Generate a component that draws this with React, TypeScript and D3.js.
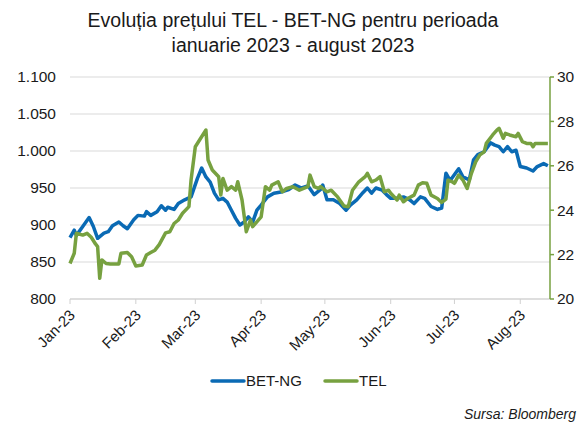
import React, { useEffect, useRef } from 'react'
import * as d3 from 'd3'

// BET-NG index (left axis)
const betDates = ['2023-01-03','2023-01-05','2023-01-06','2023-01-09','2023-01-10','2023-01-12','2023-01-14','2023-01-16','2023-01-19','2023-01-21','2023-01-23','2023-01-26','2023-01-28','2023-01-30','2023-02-02','2023-02-04','2023-02-07','2023-02-08','2023-02-10','2023-02-13','2023-02-15','2023-02-17','2023-02-18','2023-02-21','2023-02-23','2023-02-26','2023-03-01','2023-03-04','2023-03-06','2023-03-08','2023-03-10','2023-03-12','2023-03-14','2023-03-16','2023-03-18','2023-03-20','2023-03-22','2023-03-24','2023-03-26','2023-03-28','2023-03-30','2023-04-01','2023-04-03','2023-04-06','2023-04-09','2023-04-13','2023-04-16','2023-04-19','2023-04-22','2023-04-25','2023-04-28','2023-05-01','2023-05-02','2023-05-04','2023-05-07','2023-05-10','2023-05-13','2023-05-15','2023-05-18','2023-05-21','2023-05-23','2023-05-25','2023-05-27','2023-05-30','2023-06-01','2023-06-03','2023-06-06','2023-06-09','2023-06-12','2023-06-14','2023-06-17','2023-06-19','2023-06-22','2023-06-25','2023-06-27','2023-06-29','2023-07-01','2023-07-05','2023-07-07','2023-07-10','2023-07-12','2023-07-14','2023-07-17','2023-07-20','2023-07-22','2023-07-24','2023-07-26','2023-07-28','2023-07-30','2023-08-01','2023-08-03','2023-08-06','2023-08-09','2023-08-11','2023-08-14','2023-08-16']
const betValues = [883,893,886,898,902,910,898,882,889,891,899,904,899,895,907,913,912,918,913,918,926,920,924,921,929,934,938,963,977,965,958,943,934,936,931,920,909,900,904,911,904,920,927,938,943,945,948,954,950,953,941,948,954,934,934,929,920,927,934,944,950,943,950,947,941,936,936,938,934,929,938,936,925,921,923,970,960,976,965,961,988,995,999,1011,1008,1006,999,1006,999,1001,979,977,973,979,983,980]

// TEL share price (right axis)
const telDates = ['2023-01-03','2023-01-05','2023-01-06','2023-01-09','2023-01-11','2023-01-13','2023-01-15','2023-01-16','2023-01-17','2023-01-18','2023-01-20','2023-01-22','2023-01-26','2023-01-27','2023-01-30','2023-02-01','2023-02-03','2023-02-06','2023-02-08','2023-02-10','2023-02-12','2023-02-14','2023-02-17','2023-02-19','2023-02-21','2023-02-23','2023-02-25','2023-02-28','2023-03-01','2023-03-03','2023-03-05','2023-03-08','2023-03-09','2023-03-11','2023-03-14','2023-03-15','2023-03-16','2023-03-18','2023-03-20','2023-03-22','2023-03-23','2023-03-25','2023-03-27','2023-03-29','2023-03-30','2023-04-03','2023-04-05','2023-04-07','2023-04-08','2023-04-11','2023-04-13','2023-04-15','2023-04-18','2023-04-21','2023-04-25','2023-04-26','2023-04-28','2023-04-30','2023-05-01','2023-05-04','2023-05-06','2023-05-09','2023-05-12','2023-05-14','2023-05-16','2023-05-19','2023-05-22','2023-05-23','2023-05-25','2023-05-27','2023-05-29','2023-05-31','2023-06-02','2023-06-03','2023-06-06','2023-06-07','2023-06-09','2023-06-11','2023-06-14','2023-06-16','2023-06-18','2023-06-20','2023-06-22','2023-06-25','2023-06-27','2023-06-29','2023-06-30','2023-07-02','2023-07-03','2023-07-05','2023-07-07','2023-07-09','2023-07-11','2023-07-13','2023-07-15','2023-07-17','2023-07-18','2023-07-21','2023-07-23','2023-07-24','2023-07-26','2023-07-27','2023-07-29','2023-08-01','2023-08-02','2023-08-04','2023-08-06','2023-08-08','2023-08-09','2023-08-10','2023-08-16']
const telValues = [21.6,22.06,22.96,22.88,22.96,22.78,22.48,22.36,20.93,21.76,21.6,21.58,21.58,22.06,22.09,21.9,21.49,21.53,21.98,22.09,22.2,22.45,22.98,23.03,23.4,23.56,23.86,24.16,25.36,26.86,27.16,27.61,26.26,25.81,25.51,24.68,25.43,24.9,25.06,24.9,25.28,24.46,23.03,23.56,23.26,23.7,25.06,24.9,25.13,25.28,24.83,24.98,25.06,24.9,25.06,25.58,25.06,24.98,25.06,24.83,24.9,24.6,24.19,24.16,24.9,25.28,25.51,25.66,25.28,25.36,25.51,24.83,24.9,24.76,24.46,24.68,24.38,24.53,24.68,25.13,25.24,25.21,24.68,24.53,24.35,24.5,25.36,25.28,25.21,25.58,25.36,24.98,25.66,26.18,26.49,26.63,27.01,27.39,27.61,27.69,27.24,27.46,27.39,27.31,27.46,27.09,27.01,27.01,26.86,27.01,27.01]

const leftTicks = [800, 850, 900, 950, 1000, 1050, 1100]
const rightTicks = [20, 22, 24, 26, 28, 30]
const monthTicks = ['2023-01-03','2023-02-03','2023-03-03','2023-04-03','2023-05-03','2023-06-03','2023-07-03','2023-08-03']
const seriesNames = ['BET-NG', 'TEL']

const BLUE = '#0A6AB4'
const GREEN = '#77A140'
const FONT = '"Liberation Sans", Arial, sans-serif'

export default function App() {
  const ref = useRef<SVGSVGElement>(null)

  useEffect(() => {
    const svg = d3.select(ref.current)
    svg.selectAll('*').remove()
    const parse = d3.timeParse('%Y-%m-%d')
    const left = 70, right = 550, top = 77, bottom = 299

    const x = d3.scaleTime()
      .domain([parse('2023-01-03')!, parse('2023-08-17')!])
      .range([left, right])
    const yL = d3.scaleLinear().domain([800, 1100]).range([bottom, top])
    const yR = d3.scaleLinear().domain([20, 30]).range([bottom, top])

    // title
    const title = svg.append('text')
      .attr('text-anchor', 'middle')
      .style('font-family', FONT)
      .style('font-size', '19.5px')
      .attr('fill', '#1a1a1a')
    title.append('tspan').attr('x', 293).attr('y', 27).text('Evoluția prețului TEL - BET-NG pentru perioada')
    title.append('tspan').attr('x', 293).attr('y', 52).text('ianuarie 2023 - august 2023')

    // gridlines
    svg.append('g').selectAll('line')
      .data(leftTicks)
      .enter()
      .append('line')
      .attr('x1', left).attr('x2', right)
      .attr('y1', d => yL(d)).attr('y2', d => yL(d))
      .attr('stroke', '#D9D9D9').attr('stroke-width', 1)

    // left labels
    svg.append('g').selectAll('text')
      .data(leftTicks)
      .enter()
      .append('text')
      .attr('x', 56)
      .attr('y', d => yL(d))
      .attr('dy', '0.35em')
      .attr('text-anchor', 'end')
      .style('font-family', FONT)
      .style('font-size', '15.5px')
      .attr('fill', '#1a1a1a')
      .text(d => d3.format(',')(d).replace(',', '.'))

    // x axis
    const xa = svg.append('g')
    xa.append('line')
      .attr('x1', left).attr('x2', right)
      .attr('y1', bottom).attr('y2', bottom)
      .attr('stroke', '#D0D0D0').attr('stroke-width', 1)
    const mt = monthTicks.map(d => parse(d)!)
    xa.selectAll('line.tick')
      .data(mt)
      .enter()
      .append('line')
      .attr('class', 'tick')
      .attr('x1', d => x(d)).attr('x2', d => x(d))
      .attr('y1', bottom).attr('y2', bottom + 5)
      .attr('stroke', '#D0D0D0')
    xa.selectAll('text')
      .data(mt)
      .enter()
      .append('text')
      .attr('text-anchor', 'end')
      .attr('transform', d => 'translate(' + (x(d) + 6) + ',' + (bottom + 17) + ')rotate(-45)')
      .style('font-family', FONT)
      .style('font-size', '15px')
      .attr('fill', '#1a1a1a')
      .text(d => d3.timeFormat('%b-%y')(d))

    // right axis
    const ra = svg.append('g')
    ra.append('line')
      .attr('x1', right).attr('x2', right)
      .attr('y1', top).attr('y2', bottom)
      .attr('stroke', GREEN).attr('stroke-width', 1.5)
    ra.selectAll('line.tick')
      .data(rightTicks)
      .enter()
      .append('line')
      .attr('class', 'tick')
      .attr('x1', right).attr('x2', right + 4)
      .attr('y1', d => yR(d)).attr('y2', d => yR(d))
      .attr('stroke', GREEN).attr('stroke-width', 1.5)
    ra.selectAll('text')
      .data(rightTicks)
      .enter()
      .append('text')
      .attr('x', 557)
      .attr('y', d => yR(d))
      .attr('dy', '0.35em')
      .style('font-family', FONT)
      .style('font-size', '15.5px')
      .attr('fill', '#1a1a1a')
      .text(d => d)

    // lines
    const bet = betDates.map((d, i) => [parse(d)!, betValues[i]] as [Date, number])
    const tel = telDates.map((d, i) => [parse(d)!, telValues[i]] as [Date, number])
    const lineL = d3.line<[Date, number]>().x(d => x(d[0])).y(d => yL(d[1]))
    const lineR = d3.line<[Date, number]>().x(d => x(d[0])).y(d => yR(d[1]))

    svg.append('path')
      .datum(bet)
      .attr('d', lineL)
      .attr('fill', 'none')
      .attr('stroke', BLUE)
      .attr('stroke-width', 3.5)
      .attr('stroke-linejoin', 'round')
    svg.append('path')
      .datum(tel)
      .attr('d', lineR)
      .attr('fill', 'none')
      .attr('stroke', GREEN)
      .attr('stroke-width', 3.5)
      .attr('stroke-linejoin', 'round')

    // legend
    const lg = svg.append('g')
    const legendX = [212, 325]
    const colors = [BLUE, GREEN]
    seriesNames.forEach((name, i) => {
      lg.append('line')
        .attr('x1', legendX[i]).attr('x2', legendX[i] + 32)
        .attr('y1', 381).attr('y2', 381)
        .attr('stroke', colors[i]).attr('stroke-width', 3.5)
        .attr('stroke-linecap', 'round')
      lg.append('text')
        .attr('x', legendX[i] + 34)
        .attr('y', 381)
        .attr('dy', '0.35em')
        .style('font-family', FONT)
        .style('font-size', '15px')
        .attr('fill', '#1a1a1a')
        .text(name)
    })

    svg.append('text')
      .attr('x', 576)
      .attr('y', 419)
      .attr('text-anchor', 'end')
      .style('font-family', FONT)
      .style('font-size', '14px')
      .style('font-style', 'italic')
      .attr('fill', '#1a1a1a')
      .text('Sursa: Bloomberg')
  }, [])

  return (
    <div style={{ position: 'absolute', left: 0, top: 0 }}>
      <svg ref={ref} width={585} height={423} style={{ display: 'block', background: '#fff' }}></svg>
    </div>
  )
}
